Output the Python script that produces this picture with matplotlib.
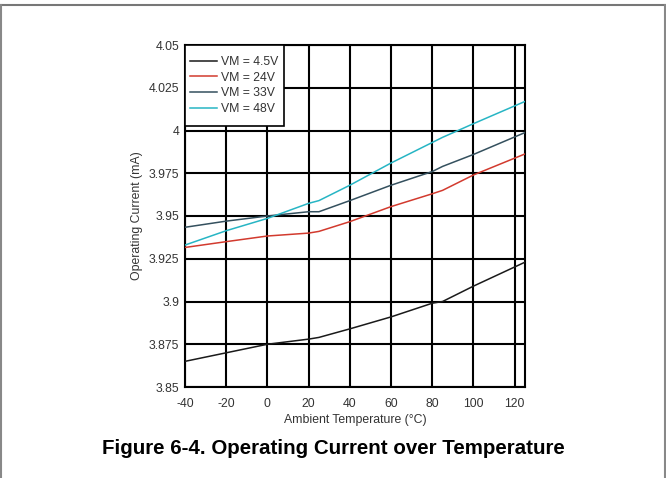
import matplotlib
matplotlib.use("Agg")
import matplotlib.pyplot as plt
from matplotlib.lines import Line2D
from matplotlib.patches import Rectangle

temps = [-40, -20, 0, 20, 25, 40, 60, 80, 85, 100, 125]
vm_4_5 = [3.865, 3.870, 3.875, 3.878, 3.879, 3.884, 3.891, 3.899, 3.900, 3.909, 3.923]
vm_24 = [3.9316, 3.935, 3.9383, 3.940, 3.941, 3.9467, 3.9555, 3.963, 3.965, 3.974, 3.9863]
vm_33 = [3.9434, 3.947, 3.950, 3.9525, 3.9525, 3.959, 3.968, 3.976, 3.979, 3.986, 3.9988]
vm_48 = [3.933, 3.9414, 3.9486, 3.9574, 3.959, 3.968, 3.981, 3.993, 3.996, 4.004, 4.017]
labels = ["VM = 4.5V", "VM = 24V", "VM = 33V", "VM = 48V"]
colors = ["#1a1a1a", "#d23a2e", "#34505e", "#27b5c4"]
xticks = [-40, -20, 0, 20, 40, 60, 80, 100, 120]
yticks = [3.85, 3.875, 3.9, 3.925, 3.95, 3.975, 4.0, 4.025, 4.05]
yticklabels = ["3.85", "3.875", "3.9", "3.925", "3.95", "3.975", "4", "4.025", "4.05"]

plt.rcParams['font.family'] = ['Liberation Sans', 'DejaVu Sans']
plt.rcParams['axes.unicode_minus'] = False
fig = plt.figure(figsize=(6.66, 4.78), dpi=100)
ax = fig.add_axes([185/666, 1-387/478, 340/666, 342/478])

for vals, lab, c in zip([vm_4_5, vm_24, vm_33, vm_48], labels, colors):
    ax.plot(temps, vals, color=c, lw=1.1, label=lab, zorder=3)

ax.set_xlim(-40, 125)
ax.set_ylim(3.85, 4.05)
ax.set_xticks(xticks)
ax.set_yticks(yticks)
ax.set_yticklabels(yticklabels)
ax.grid(True, color="black", lw=1.5, zorder=1)
ax.set_axisbelow(True)
for s in ax.spines.values():
    s.set_color("black")
    s.set_linewidth(1.5)
ax.tick_params(length=0, labelsize=8.8, colors="#333333", pad=4)
ax.tick_params(axis="x", pad=8)
ax.set_xlabel("Ambient Temperature (°C)", fontsize=8.8, color="#333333", labelpad=3)
ax.set_ylabel("Operating Current (mA)", fontsize=8.8, color="#333333", labelpad=4)

# legend frame
ax.add_patch(Rectangle((0, (387-126)/342), (284-185)/340, 1-(387-126)/342,
                       transform=ax.transAxes, facecolor="white", edgecolor="black",
                       lw=1.2, zorder=4))
leg = ax.legend(loc="center left", bbox_to_anchor=(5/340, (387-85.4)/342),
                fontsize=8.8, frameon=False, borderaxespad=0, borderpad=0,
                handlelength=2.2, handletextpad=0.3, labelspacing=0.3,
                labelcolor="#333333")
leg.set_zorder(5)

fig.text(0.5, 1-449/478, "Figure 6-4. Operating Current over Temperature",
         ha="center", va="center", fontsize=14.8, fontweight="bold", color="black")

# outer frame
fig.add_artist(Line2D([0, 1], [1-5/478, 1-5/478], color="#777777", lw=1.5, transform=fig.transFigure))
fig.add_artist(Line2D([0.7/666, 0.7/666], [0, 1-5/478], color="#888888", lw=1.5, transform=fig.transFigure))
fig.add_artist(Line2D([665/666, 665/666], [0, 1-5/478], color="#888888", lw=1.5, transform=fig.transFigure))

fig.savefig("out.png", dpi=100)
